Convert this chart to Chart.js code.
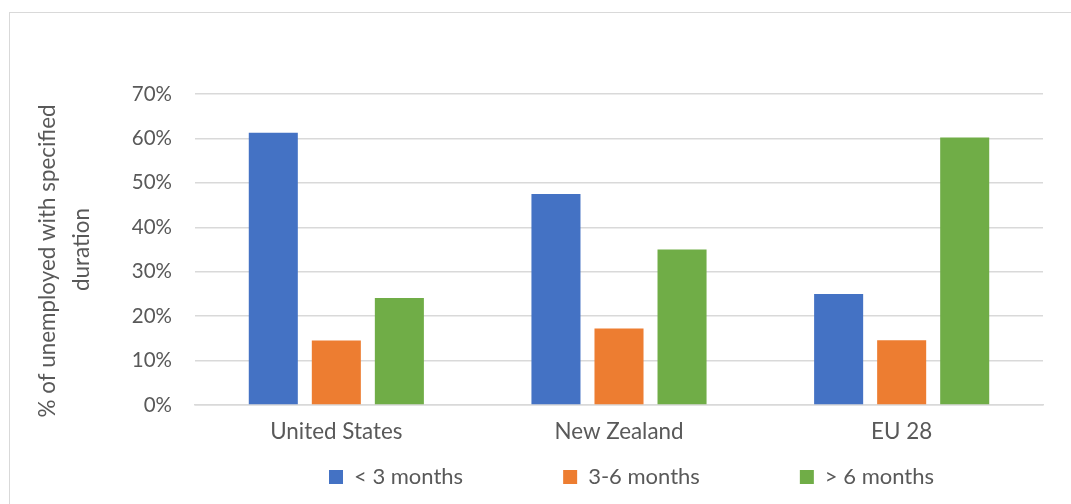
<!DOCTYPE html>
<html>
<head>
<meta charset="utf-8">
<script src="https://cdn.jsdelivr.net/npm/chart.js@4.4.1/dist/chart.umd.min.js"></script>
<style>
  html, body { margin: 0; padding: 0; background: #ffffff; overflow: hidden; }
  #wrap { position: relative; width: 1071px; height: 504px; }
  #frame { position: absolute; left: 9px; top: 12px; width: 2000px; height: 2000px;
           border: 1.5px solid #d9d9d9; box-sizing: border-box; }
  canvas { position: absolute; left: 0; top: 0; }
</style>
</head>
<body>
<div id="wrap">
  <div id="frame"></div>
  <canvas id="c" width="1071" height="504"></canvas>
</div>
<script>
const categories = ['United States', 'New Zealand', 'EU 28'];
const seriesNames = ['< 3 months', '3-6 months', '> 6 months'];
const lessThan3 = [61.3, 47.5, 25.0];
const from3to6 = [14.5, 17.2, 14.6];
const moreThan6 = [24.1, 35.0, 60.2];
const yTickLabels = ['0%', '10%', '20%', '30%', '40%', '50%', '60%', '70%'];
const yTitle = ['% of unemployed with specified    ', 'duration'];

const colors = ['#4472C4', '#ED7D31', '#70AD47'];
const textColor = '#595959';
const fontFamily = 'Lato, "Open Sans", sans-serif';

const legendShift = {
  id: 'legendShift',
  afterLayout(chart) {
    const lg = chart.legend;
    if (!lg) return;
    const dx = 110;
    lg.left += dx; lg.right += dx;
    lg.top = 477 - 100 - 11;
    lg.bottom = 640;
  }
};

new Chart(document.getElementById('c'), {
  type: 'bar',
  data: {
    labels: categories,
    datasets: [
      { label: seriesNames[0], data: lessThan3, backgroundColor: colors[0] },
      { label: seriesNames[1], data: from3to6, backgroundColor: colors[1] },
      { label: seriesNames[2], data: moreThan6, backgroundColor: colors[2] }
    ]
  },
  options: {
    responsive: false,
    animation: false,
    devicePixelRatio: 1,
    layout: { padding: { top: 94, right: 28, left: 0, bottom: 0 } },
    datasets: {
      bar: { categoryPercentage: 0.669, barPercentage: 0.778, borderWidth: 0 }
    },
    plugins: {
      tooltip: { enabled: false },
      legend: {
        position: 'bottom',
        maxHeight: 59,
        labels: {
          boxWidth: 14,
          boxHeight: 14,
          padding: 100,
          color: textColor,
          font: { family: fontFamily, size: 22 }
        }
      }
    },
    scales: {
      x: {
        grid: { display: false, drawTicks: false },
        border: { display: true, color: '#d9d9d9', width: 1.5 },
        ticks: { color: textColor, font: { family: fontFamily, size: 22.4 }, padding: 13 },
        afterFit(s) { s.height = 40; }
      },
      y: {
        min: 0,
        max: 70,
        grid: { color: '#d9d9d9', lineWidth: 1.5, drawTicks: false },
        border: { display: false },
        ticks: {
          stepSize: 10,
          padding: 23,
          color: textColor,
          font: { family: fontFamily, size: 20.5 },
          callback: (v) => yTickLabels[Math.round(v / 10)]
        },
        title: {
          display: true,
          text: yTitle,
          color: textColor,
          font: { family: fontFamily, size: 22.4, lineHeight: 1.5 },
          padding: { top: 31, bottom: 0 }
        },
        afterFit(s) { s.width = 195; }
      }
    }
  },
  plugins: [legendShift]
});
</script>
</body>
</html>
